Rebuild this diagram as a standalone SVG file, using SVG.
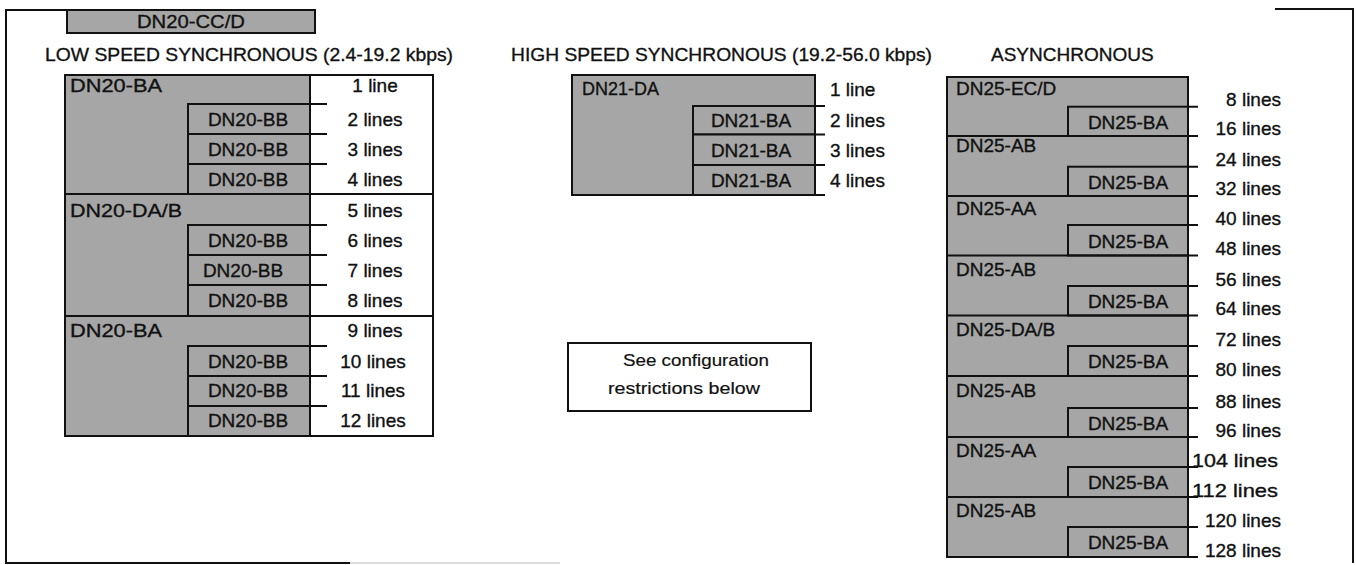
<svg xmlns="http://www.w3.org/2000/svg" width="1356" height="565" viewBox="0 0 1356 565">
<style>
text{font-family:"Liberation Sans",Arial,Helvetica,sans-serif;font-size:19px;fill:#111;stroke:#111;stroke-width:0.35}
.g{fill:#a6a6a6;stroke:#111;stroke-width:2}
.w{fill:#fff;stroke:#111;stroke-width:2}
.ln{stroke:#111;stroke-width:2;fill:none}
.m{text-anchor:middle}
.e{text-anchor:end}
.s{font-size:17px;stroke-width:0.2}
</style>
<rect width="1356" height="565" fill="#fff"/>
<g id="frame">
<path class="ln" d="M67 10H6V563H350"/>
<path class="ln" d="M1275 9H1353V563"/>
<path d="M350 563H560" stroke="#cfcfcf" stroke-width="1.5" fill="none"/>
</g>
<g id="dn20-ccd">
<rect x="67" y="10" width="248" height="23" class="g"/>
<text x="191" y="28" class="m" textLength="108" lengthAdjust="spacingAndGlyphs">DN20-CC/D</text>
</g>
<g id="headers">
<text x="45" y="61" textLength="408" lengthAdjust="spacingAndGlyphs">LOW SPEED SYNCHRONOUS (2.4-19.2 kbps)</text>
<text x="511" y="61" textLength="421" lengthAdjust="spacingAndGlyphs">HIGH SPEED SYNCHRONOUS (19.2-56.0 kbps)</text>
<text x="991" y="61">ASYNCHRONOUS</text>
</g>
<g id="low-speed">
<rect x="65" y="75" width="245" height="361" class="g"/>
<rect x="310" y="75" width="123" height="361" class="w"/>
<g id="ls-group1">
<text x="70" y="92" textLength="92" lengthAdjust="spacingAndGlyphs">DN20-BA</text>
<text x="375" y="92" class="m">1 line</text>
<g id="ls-bb2"><rect x="188" y="104" width="122" height="30" class="g"/><text x="248" y="126" class="m">DN20-BB</text><text x="375" y="126" class="m">2 lines</text></g>
<g id="ls-bb3"><rect x="188" y="134" width="122" height="30" class="g"/><text x="248" y="156" class="m">DN20-BB</text><text x="375" y="156" class="m">3 lines</text></g>
<g id="ls-bb4"><rect x="188" y="164" width="122" height="30" class="g"/><text x="248" y="186" class="m">DN20-BB</text><text x="375" y="186" class="m">4 lines</text></g>
</g>
<g id="ls-group2">
<text x="70" y="217" textLength="112" lengthAdjust="spacingAndGlyphs">DN20-DA/B</text>
<text x="375" y="217" class="m">5 lines</text>
<g id="ls-bb6"><rect x="188" y="225" width="122" height="30" class="g"/><text x="248" y="247" class="m">DN20-BB</text><text x="375" y="247" class="m">6 lines</text></g>
<g id="ls-bb7"><rect x="188" y="255" width="122" height="30" class="g"/><text x="243" y="277" class="m">DN20-BB</text><text x="375" y="277" class="m">7 lines</text></g>
<g id="ls-bb8"><rect x="188" y="285" width="122" height="31" class="g"/><text x="248" y="307" class="m">DN20-BB</text><text x="375" y="307" class="m">8 lines</text></g>
</g>
<g id="ls-group3">
<text x="70" y="337" textLength="92" lengthAdjust="spacingAndGlyphs">DN20-BA</text>
<text x="375" y="337" class="m">9 lines</text>
<g id="ls-bb10"><rect x="188" y="346" width="122" height="30" class="g"/><text x="248" y="368" class="m">DN20-BB</text><text x="373" y="368" class="m">10 lines</text></g>
<g id="ls-bb11"><rect x="188" y="376" width="122" height="30" class="g"/><text x="248" y="397" class="m">DN20-BB</text><text x="373" y="397" class="m">11 lines</text></g>
<g id="ls-bb12"><rect x="188" y="406" width="122" height="30" class="g"/><text x="248" y="427" class="m">DN20-BB</text><text x="373" y="427" class="m">12 lines</text></g>
</g>
</g>
<g id="high-speed">
<rect x="572" y="75" width="243" height="120" class="g"/>
<text x="582" y="95" textLength="77" lengthAdjust="spacingAndGlyphs">DN21-DA</text>
<text x="830" y="96">1 line</text>
<g id="hs-ba2"><rect x="693" y="106" width="122" height="28.5" class="g"/><text x="751" y="127" class="m">DN21-BA</text><text x="830" y="127">2 lines</text></g>
<g id="hs-ba3"><rect x="693" y="134.5" width="122" height="30.5" class="g"/><text x="751" y="157" class="m">DN21-BA</text><text x="830" y="157">3 lines</text></g>
<g id="hs-ba4"><rect x="693" y="165" width="122" height="30" class="g"/><text x="751" y="187" class="m">DN21-BA</text><text x="830" y="187">4 lines</text></g>
</g>
<g id="config-note">
<rect x="568" y="343" width="243" height="68" class="w"/>
<text x="696" y="366" class="m s" textLength="146" lengthAdjust="spacingAndGlyphs">See configuration</text>
<text x="684" y="394" class="m s" textLength="152" lengthAdjust="spacingAndGlyphs">restrictions below</text>
</g>
<g id="async">
<rect x="947" y="77" width="241" height="480" class="g"/>
<g id="as-g1"><text x="956" y="95">DN25-EC/D</text><rect x="1068" y="106.7" width="120" height="29.3" class="g"/><text x="1128" y="128.5" class="m">DN25-BA</text></g>
<g id="as-g2"><text x="956" y="152">DN25-AB</text><rect x="1068" y="166.7" width="120" height="29.3" class="g"/><text x="1128" y="188.5" class="m">DN25-BA</text></g>
<g id="as-g3"><text x="956" y="215">DN25-AA</text><rect x="1068" y="225" width="120" height="30.5" class="g"/><text x="1128" y="248" class="m">DN25-BA</text></g>
<g id="as-g4"><text x="956" y="276">DN25-AB</text><rect x="1068" y="286" width="120" height="29.5" class="g"/><text x="1128" y="308" class="m">DN25-BA</text></g>
<g id="as-g5"><text x="956" y="336">DN25-DA/B</text><rect x="1068" y="346" width="120" height="30" class="g"/><text x="1128" y="368" class="m">DN25-BA</text></g>
<g id="as-g6"><text x="956" y="397">DN25-AB</text><rect x="1068" y="408" width="120" height="29" class="g"/><text x="1128" y="430" class="m">DN25-BA</text></g>
<g id="as-g7"><text x="956" y="457">DN25-AA</text><rect x="1068" y="467" width="120" height="30" class="g"/><text x="1128" y="489" class="m">DN25-BA</text></g>
<g id="as-g8"><text x="956" y="517">DN25-AB</text><rect x="1068" y="527" width="120" height="30" class="g"/><text x="1128" y="549" class="m">DN25-BA</text></g>
<g id="as-lines">
<text x="1281" y="105.5" class="e">8 lines</text>
<text x="1281" y="135" class="e">16 lines</text>
<text x="1281" y="165.5" class="e">24 lines</text>
<text x="1281" y="195" class="e">32 lines</text>
<text x="1281" y="225" class="e">40 lines</text>
<text x="1281" y="255" class="e">48 lines</text>
<text x="1281" y="285.5" class="e">56 lines</text>
<text x="1281" y="315" class="e">64 lines</text>
<text x="1281" y="345.5" class="e">72 lines</text>
<text x="1281" y="375.5" class="e">80 lines</text>
<text x="1281" y="407.5" class="e">88 lines</text>
<text x="1281" y="436.5" class="e">96 lines</text>
<text x="1192" y="466.5" textLength="86" lengthAdjust="spacingAndGlyphs">104 lines</text>
<text x="1192" y="496.5" textLength="86" lengthAdjust="spacingAndGlyphs">112 lines</text>
<text x="1281" y="526.5" class="e">120 lines</text>
<text x="1281" y="556.5" class="e">128 lines</text>
</g>
</g>
<g id="connectors" class="ln">
<path d="M65 194H433M65 316H433"/>
<path d="M310 104H327M310 134H327M310 164H327M310 225H327M310 255H327M310 285H327M310 346H327M310 376H327M310 406H327"/>
<path d="M815 106H825M815 134.5H825M815 165H825M815 195H825"/>
<path d="M1188 106.7H1198M947 136H1198M1188 166.7H1198M947 196H1198M1188 225H1198M947 255.5H1198M1188 286H1198M947 315.5H1198M1188 346H1198M947 376H1198M1188 408H1198M947 437H1198M1188 467H1198M947 497H1198M1188 527H1198M1188 557H1198"/>
</g>
</svg>
